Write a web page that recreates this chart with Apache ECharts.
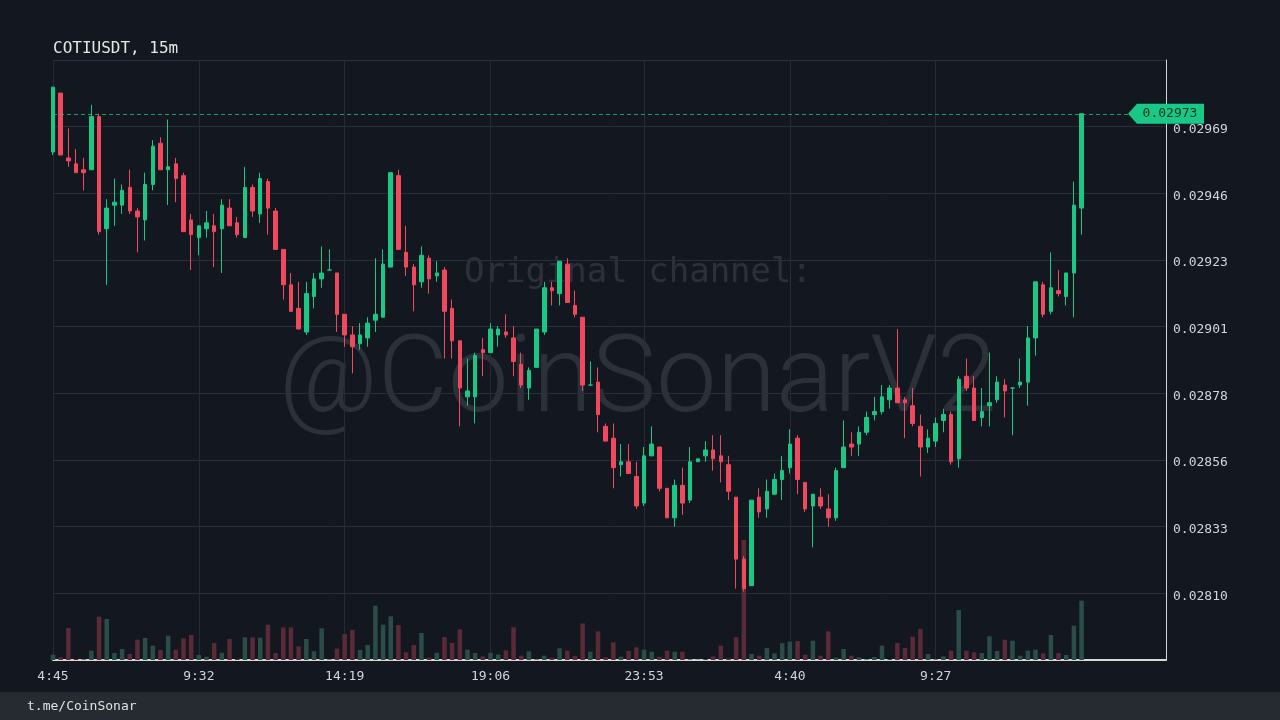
<!DOCTYPE html>
<html>
<head>
<meta charset="utf-8">
<title>COTIUSDT, 15m</title>
<script src="https://cdn.jsdelivr.net/npm/echarts@6/dist/echarts.min.js"></script>
<style>
  html, body { margin: 0; padding: 0; background: #131720; }
  #chart { width: 1280px; height: 720px; }
</style>
</head>
<body>
<div id="chart"></div>
<script>
// 15m candles, 4:45 -> 14:15 next day
const opens = [
  0.02960, 0.02980, 0.02958, 0.02956, 0.02954, 0.02954, 0.02972, 0.02934, 0.02942, 0.02942,
  0.02948, 0.02940, 0.02937, 0.02949, 0.02963, 0.02954, 0.02956, 0.02952, 0.02937, 0.02931,
  0.02934, 0.02935, 0.02934, 0.02941, 0.02936, 0.02931, 0.02948, 0.02939, 0.02950, 0.02940,
  0.02927, 0.02915, 0.02907, 0.02899, 0.02911, 0.02917, 0.02920, 0.02919, 0.02905, 0.02898,
  0.02895, 0.02897, 0.02903, 0.02904, 0.02921, 0.02952, 0.02926, 0.02921, 0.02916, 0.02924,
  0.02918, 0.02920, 0.02907, 0.02896, 0.02877, 0.02877, 0.02893, 0.02892, 0.02898, 0.02899,
  0.02897, 0.02888, 0.02880, 0.02887, 0.02899, 0.02914, 0.02912, 0.02922, 0.02908, 0.02904,
  0.02881, 0.02882, 0.02867, 0.02863, 0.02854, 0.02855, 0.02850, 0.02841, 0.02857, 0.02860,
  0.02846, 0.02836, 0.02847, 0.02842, 0.02855, 0.02857, 0.02859, 0.02857, 0.02854, 0.02843,
  0.02822, 0.02813, 0.02843, 0.02839, 0.02844, 0.02849, 0.02853, 0.02863, 0.02848, 0.02840,
  0.02843, 0.02839, 0.02836, 0.02853, 0.02861, 0.02861, 0.02865, 0.02871, 0.02872, 0.02876,
  0.02880, 0.02876, 0.02874, 0.02867, 0.02860, 0.02862, 0.02869, 0.02871, 0.02856, 0.02884,
  0.02880, 0.02870, 0.02874, 0.02876, 0.02881, 0.02880, 0.02881, 0.02882, 0.02897, 0.02915,
  0.02906, 0.02913, 0.02911, 0.02919, 0.02941
];
const closes = [
  0.02982, 0.02959, 0.02957, 0.02953, 0.02953, 0.02972, 0.02933, 0.02941, 0.02943, 0.02947,
  0.02940, 0.02938, 0.02949, 0.02962, 0.02954, 0.02955, 0.02951, 0.02933, 0.02932, 0.02935,
  0.02936, 0.02933, 0.02942, 0.02935, 0.02932, 0.02948, 0.02940, 0.02951, 0.02941, 0.02927,
  0.02915, 0.02906, 0.02900, 0.02912, 0.02917, 0.02919, 0.02920, 0.02905, 0.02898, 0.02894,
  0.02898, 0.02902, 0.02905, 0.02922, 0.02953, 0.02927, 0.02921, 0.02915, 0.02925, 0.02917,
  0.02919, 0.02906, 0.02896, 0.02880, 0.02879, 0.02891, 0.02892, 0.02900, 0.02900, 0.02898,
  0.02889, 0.02881, 0.02886, 0.02900, 0.02914, 0.02913, 0.02923, 0.02909, 0.02905, 0.02881,
  0.02881, 0.02871, 0.02862, 0.02853, 0.02855, 0.02851, 0.02840, 0.02857, 0.02861, 0.02846,
  0.02836, 0.02847, 0.02841, 0.02855, 0.02856, 0.02859, 0.02856, 0.02855, 0.02845, 0.02822,
  0.02812, 0.02842, 0.02838, 0.02845, 0.02849, 0.02852, 0.02861, 0.02849, 0.02839, 0.02844,
  0.02840, 0.02836, 0.02852, 0.02860, 0.02860, 0.02865, 0.02870, 0.02872, 0.02877, 0.02880,
  0.02875, 0.02875, 0.02868, 0.02860, 0.02863, 0.02868, 0.02871, 0.02855, 0.02883, 0.02880,
  0.02869, 0.02872, 0.02875, 0.02882, 0.02879, 0.02880, 0.02882, 0.02897, 0.02916, 0.02905,
  0.02914, 0.02912, 0.02919, 0.02942, 0.02973
];
const lows = [
  0.02959, 0.02959, 0.02955, 0.02953, 0.02947, 0.02954, 0.02932, 0.02915, 0.02935, 0.02939,
  0.02939, 0.02926, 0.02930, 0.02947, 0.02954, 0.02942, 0.02943, 0.02933, 0.02920, 0.02925,
  0.02931, 0.02921, 0.02919, 0.02935, 0.02931, 0.02931, 0.02938, 0.02936, 0.02932, 0.02927,
  0.02910, 0.02906, 0.02900, 0.02898, 0.02907, 0.02914, 0.02920, 0.02899, 0.02894, 0.02885,
  0.02893, 0.02894, 0.02899, 0.02904, 0.02921, 0.02927, 0.02918, 0.02906, 0.02914, 0.02912,
  0.02916, 0.02890, 0.02890, 0.02867, 0.02874, 0.02868, 0.02884, 0.02892, 0.02894, 0.02897,
  0.02884, 0.02880, 0.02876, 0.02887, 0.02898, 0.02908, 0.02908, 0.02909, 0.02904, 0.02879,
  0.02881, 0.02865, 0.02862, 0.02846, 0.02850, 0.02851, 0.02839, 0.02840, 0.02857, 0.02845,
  0.02836, 0.02833, 0.02837, 0.02841, 0.02855, 0.02855, 0.02852, 0.02848, 0.02842, 0.02812,
  0.02811, 0.02813, 0.02836, 0.02836, 0.02844, 0.02842, 0.02851, 0.02844, 0.02838, 0.02826,
  0.02839, 0.02833, 0.02835, 0.02853, 0.02857, 0.02857, 0.02864, 0.02869, 0.02871, 0.02873,
  0.02875, 0.02863, 0.02867, 0.02850, 0.02858, 0.02860, 0.02865, 0.02854, 0.02853, 0.02879,
  0.02869, 0.02867, 0.02867, 0.02875, 0.02870, 0.02864, 0.02880, 0.02874, 0.02891, 0.02904,
  0.02905, 0.02911, 0.02908, 0.02904, 0.02932
];
const highs = [
  0.02982, 0.02980, 0.02968, 0.02961, 0.02958, 0.02976, 0.02973, 0.02944, 0.02951, 0.02949,
  0.02954, 0.02941, 0.02953, 0.02964, 0.02965, 0.02971, 0.02958, 0.02953, 0.02939, 0.02935,
  0.02940, 0.02939, 0.02944, 0.02944, 0.02938, 0.02955, 0.02949, 0.02953, 0.02951, 0.02941,
  0.02927, 0.02919, 0.02916, 0.02916, 0.02919, 0.02928, 0.02927, 0.02919, 0.02905, 0.02901,
  0.02902, 0.02904, 0.02924, 0.02927, 0.02953, 0.02954, 0.02935, 0.02922, 0.02928, 0.02925,
  0.02923, 0.02921, 0.02910, 0.02896, 0.02890, 0.02892, 0.02897, 0.02902, 0.02901, 0.02905,
  0.02901, 0.02892, 0.02887, 0.02900, 0.02916, 0.02916, 0.02923, 0.02924, 0.02913, 0.02904,
  0.02889, 0.02887, 0.02868, 0.02868, 0.02861, 0.02861, 0.02855, 0.02860, 0.02867, 0.02860,
  0.02846, 0.02849, 0.02853, 0.02860, 0.02856, 0.02862, 0.02864, 0.02864, 0.02857, 0.02843,
  0.02823, 0.02842, 0.02846, 0.02849, 0.02851, 0.02857, 0.02866, 0.02864, 0.02848, 0.02844,
  0.02846, 0.02844, 0.02853, 0.02869, 0.02865, 0.02867, 0.02872, 0.02877, 0.02881, 0.02881,
  0.02900, 0.02877, 0.02880, 0.02871, 0.02866, 0.02870, 0.02873, 0.02872, 0.02884, 0.02890,
  0.02884, 0.02880, 0.02892, 0.02884, 0.02883, 0.02880, 0.02890, 0.02901, 0.02916, 0.02916,
  0.02926, 0.02920, 0.02919, 0.02950, 0.02973
];
// volume, thousands of COTI
const volumes = [
  16, 8, 96, 3, 2, 28, 130, 123, 21, 33,
  18, 61, 66, 43, 30, 73, 31, 65, 75, 15,
  10, 51, 22, 63, 3, 68, 68, 67, 106, 21,
  98, 98, 41, 63, 26, 95, 2, 34, 78, 90,
  30, 45, 163, 106, 131, 105, 23, 45, 81, 7,
  22, 69, 51, 92, 31, 21, 11, 22, 16, 29,
  98, 13, 26, 2, 13, 7, 35, 28, 12, 110,
  25, 86, 8, 53, 10, 27, 38, 31, 25, 10,
  28, 25, 25, 2, 1, 3, 11, 43, 5, 68,
  360, 18, 13, 36, 20, 50, 55, 57, 16, 58,
  13, 86, 7, 33, 13, 8, 2, 9, 43, 3,
  51, 36, 70, 93, 18, 2, 11, 28, 150, 28,
  23, 21, 71, 27, 61, 58, 13, 28, 31, 20,
  75, 21, 15, 103, 178
];

const timeTickIndex = [0, 19, 38, 57, 77, 96, 115];
const timeTickLabels = ["4:45", "9:32", "14:19", "19:06", "23:53", "4:40", "9:27"];
const priceTickLabels = ["0.02810", "0.02833", "0.02856", "0.02878", "0.02901", "0.02923", "0.02946", "0.02969"];

const priceBase = 0.027878;  // bottom of the price axis
const priceStep = 0.000226;  // one gridline
const slotCount = 146;       // candle slots across the axis
const volumeMax = 1800;

const GREEN = "#19c884";
const RED = "#f0485c";
const MONO = "'DejaVu Sans Mono', monospace";

const toUnits = (p) => (p - priceBase) / priceStep;

const slots = [];
for (let i = 0; i < slotCount; i++) {
  const m = (4 * 60 + 45 + i * 15) % 1440;
  slots.push(Math.floor(m / 60) + ":" + String(m % 60).padStart(2, "0"));
}

const candleData = opens.map((o, i) => [toUnits(o), toUnits(closes[i]), toUnits(lows[i]), toUnits(highs[i])]);
const volumeData = volumes.map((v, i) => ({
  value: v,
  itemStyle: { color: closes[i] >= opens[i] ? "#2a4d48" : "#5a2a37" },
}));

const lastClose = closes[closes.length - 1];
const isTick = (i) => timeTickIndex.indexOf(i) >= 0;

const chart = echarts.init(document.getElementById("chart"));

chart.setOption({
  backgroundColor: "#131720",
  animation: false,
  title: {
    text: "COTIUSDT, 15m",
    left: 53,
    top: 41,
    padding: 0,
    textStyle: { color: "#e6e6e6", fontFamily: MONO, fontSize: 16, fontWeight: "normal" },
  },
  grid: { left: 53, right: 114, top: 60, bottom: 60 },
  graphic: [
    {
      type: "text", x: 638, y: 273, z: 0, silent: true,
      style: { text: "Original channel:", font: "34px " + MONO, fill: "rgba(255,255,255,0.11)", align: "center", verticalAlign: "middle" },
    },
    {
      type: "text", x: 638, y: 384, z: 0, silent: true,
      style: { text: "@CoinSonarV2", font: "300 108px Roboto, 'Open Sans', sans-serif", fill: "rgba(255,255,255,0.11)", align: "center", verticalAlign: "middle" },
    },
    {
      type: "rect", left: 0, bottom: 0, z: 0, silent: true,
      shape: { width: 1280, height: 28 }, style: { fill: "#262a31" },
    },
    {
      type: "text", left: 27, top: 700, z: 1, silent: true,
      style: { text: "t.me/CoinSonar", font: "13px " + MONO, fill: "#e0e0e0" },
    },
  ],
  xAxis: {
    type: "category",
    data: slots,
    boundaryGap: false,
    axisLine: { lineStyle: { color: "#d8d8d8", width: 2 } },
    axisTick: { show: false },
    axisLabel: {
      interval: (i) => isTick(i),
      formatter: (v, i) => timeTickLabels[timeTickIndex.indexOf(i)] || "",
      color: "#d1d4dc",
      fontFamily: MONO,
      fontSize: 13,
      margin: 10,
    },
    splitLine: { show: true, interval: (i) => isTick(i), lineStyle: { color: "#272b35" } },
  },
  yAxis: [
    {
      type: "value",
      position: "right",
      min: 0,
      max: 9,
      interval: 1,
      axisLine: { show: true, lineStyle: { color: "#d8d8d8", width: 1 } },
      axisTick: { show: false },
      axisLabel: {
        formatter: (v) => {
          const t = priceTickLabels[Math.round(v) - 1];
          return t ? "{p|" + t + "}" : "";
        },
        margin: 7,
        rich: {
          p: { color: "#d1d4dc", fontFamily: MONO, fontSize: 13, padding: [6, 0, 0, 0] },
        },
      },
      splitLine: { lineStyle: { color: "#2a2e39" } },
    },
    { type: "value", min: 0, max: volumeMax, show: false },
  ],
  series: [
    {
      name: "volume",
      type: "bar",
      yAxisIndex: 1,
      data: volumeData,
      barWidth: 4.5,
      z: 1,
      silent: true,
    },
    {
      name: "COTIUSDT",
      type: "candlestick",
      data: candleData,
      barWidth: 4,
      clip: false,
      z: 3,
      itemStyle: {
        color: GREEN, color0: RED,
        borderColor: GREEN, borderColor0: RED, borderColorDoji: GREEN,
        borderWidth: 1,
      },
      markLine: {
        silent: true,
        symbol: ["none", "none"],
        label: { show: false },
        lineStyle: { color: GREEN, type: [4, 3], width: 1, opacity: 0.75 },
        data: [{ yAxis: toUnits(lastClose) }],
      },
      markPoint: {
        silent: true,
        symbol: "path://M0,10 L9,0 L76,0 L76,20 L9,20 Z",
        symbolSize: [76, 20],
        itemStyle: { color: GREEN },
        label: {
          show: true,
          position: "inside",
          offset: [4, 0],
          formatter: () => lastClose.toFixed(5),
          color: "#0b3326",
          fontFamily: MONO,
          fontSize: 13,
        },
        data: [{ coord: [slots[slotCount - 1], toUnits(lastClose)] }],
      },
    },
  ],
});

window.addEventListener("resize", () => chart.resize());
</script>
</body>
</html>
